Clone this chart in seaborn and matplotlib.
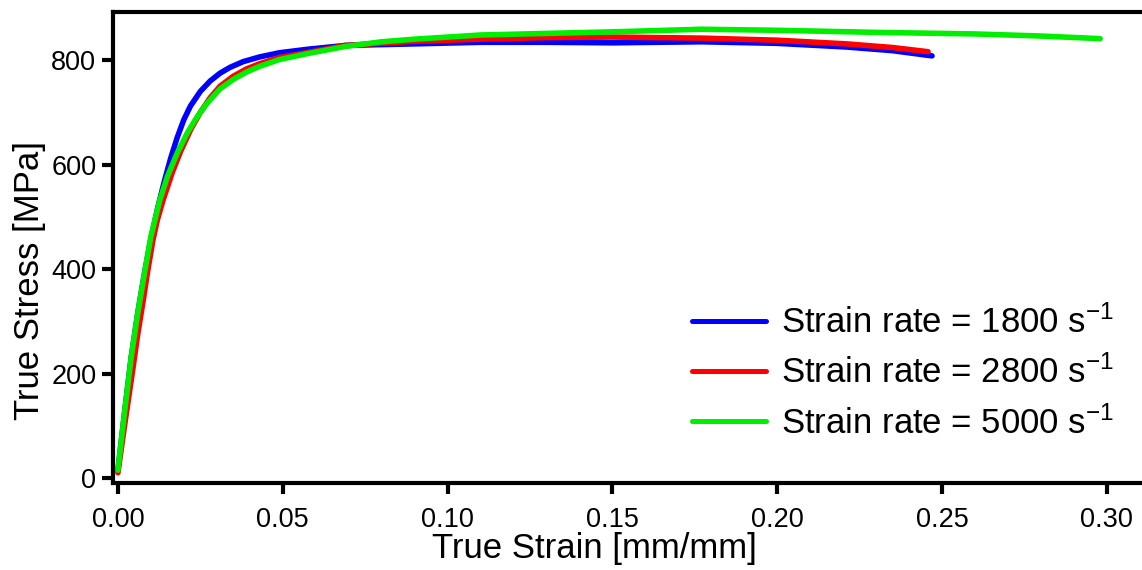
import numpy as np
import pandas as pd
import matplotlib
matplotlib.use("Agg")
import matplotlib.pyplot as plt
import seaborn as sns

# values (true strain [mm/mm], true stress [MPa])
strain_1800 = [0.0, 0.002, 0.004, 0.006, 0.008, 0.010, 0.012, 0.014, 0.016, 0.018,
               0.020, 0.022, 0.025, 0.028, 0.031, 0.034, 0.038, 0.043, 0.049, 0.058,
               0.069, 0.09, 0.11, 0.13, 0.15, 0.177, 0.20, 0.221, 0.235, 0.247]
stress_1800 = [15, 125, 230, 315, 390, 458, 515, 566, 612, 652,
               686, 712, 740, 760, 775, 786, 797, 806, 814, 821,
               828, 831, 834, 834, 833, 835, 832, 825, 818, 808]

strain_2800 = [0.0, 0.002, 0.0046, 0.006, 0.0077, 0.009, 0.0106, 0.012, 0.0137, 0.0165,
               0.019, 0.022, 0.025, 0.028, 0.031, 0.035, 0.039, 0.043, 0.049, 0.058,
               0.069, 0.09, 0.11, 0.13, 0.15, 0.177, 0.20, 0.221, 0.235, 0.2458]
stress_2800 = [10, 100, 212, 275, 341, 395, 455, 495, 532, 585,
               625, 666, 700, 728, 750, 769, 783, 793, 805, 815,
               828, 836, 840, 843, 844, 842, 838, 831, 824, 816]

strain_5000 = [0.0, 0.002, 0.004, 0.006, 0.008, 0.010, 0.0127, 0.015, 0.018, 0.021,
               0.024, 0.027, 0.031, 0.035, 0.039, 0.043, 0.049, 0.058, 0.069, 0.08,
               0.09, 0.11, 0.13, 0.15, 0.177, 0.20, 0.23, 0.26, 0.28, 0.298]
stress_5000 = [15, 125, 230, 315, 390, 462, 532, 577, 622, 660,
               691, 717, 745, 763, 777, 788, 801, 813, 826, 835,
               840, 848, 851, 854, 859, 857, 853, 850, 846, 841]

labels = ["Strain rate = 1800 s$^{-1}$",
          "Strain rate = 2800 s$^{-1}$",
          "Strain rate = 5000 s$^{-1}$"]
colors = ["#0000ff", "#ff0000", "#00ee00"]

sns.set_style("ticks")
plt.rcParams["font.family"] = ["Liberation Sans", "DejaVu Sans"]
plt.rcParams["mathtext.fontset"] = "custom"
plt.rcParams["mathtext.rm"] = "Liberation Sans"
plt.rcParams["mathtext.it"] = "Liberation Sans:italic"
plt.rcParams["mathtext.bf"] = "Liberation Sans:bold"
plt.rcParams["text.color"] = "black"
plt.rcParams["axes.labelcolor"] = "black"

fig = plt.figure(figsize=(11.42, 5.70), dpi=100)
ax = fig.add_axes([113 / 1142, 1 - 483 / 570, 1 - 113 / 1142, (483 - 12) / 570])

series = [(strain_1800, stress_1800), (strain_2800, stress_2800), (strain_5000, stress_5000)]
for (x, y), lab, col in zip(series, labels, colors):
    df = pd.DataFrame({"strain": x, "stress": y})
    sns.lineplot(data=df, x="strain", y="stress", ax=ax, color=col, lw=4,
                 label=lab, sort=False, estimator=None,
                 solid_capstyle="round", solid_joinstyle="round")

ax.set_xlim(-0.0015, 0.3107)
ax.set_ylim(-9.6, 892)
ax.set_xticks([0.0, 0.05, 0.10, 0.15, 0.20, 0.25, 0.30])
ax.set_xticklabels(["0.00", "0.05", "0.10", "0.15", "0.20", "0.25", "0.30"])
ax.set_yticks([0, 200, 400, 600, 800])

for side in ["left", "bottom", "top"]:
    ax.spines[side].set_linewidth(3)
    ax.spines[side].set_color("black")
ax.spines["right"].set_visible(False)
ax.tick_params(axis="both", direction="out", length=8, width=3, labelsize=19.5,
               colors="black", labelcolor="black")
ax.tick_params(axis="x", pad=9)
ax.tick_params(axis="y", pad=4)

ax.set_xlabel("True Strain [mm/mm]", fontsize=25)
ax.set_ylabel("True Stress [MPa]", fontsize=25)
ax.xaxis.set_label_coords(0.468, -0.105)
ax.yaxis.set_label_coords(-0.065, 0.43)

leg = ax.legend(loc="center left", bbox_to_anchor=(0.5627, 0.2335), frameon=False,
                fontsize=25, handlelength=2.14, handletextpad=0.43, labelspacing=0.45,
                borderpad=0, borderaxespad=0)
for h in leg.get_lines():
    h.set_linewidth(3.6)

fig.savefig("out.png", dpi=100)
